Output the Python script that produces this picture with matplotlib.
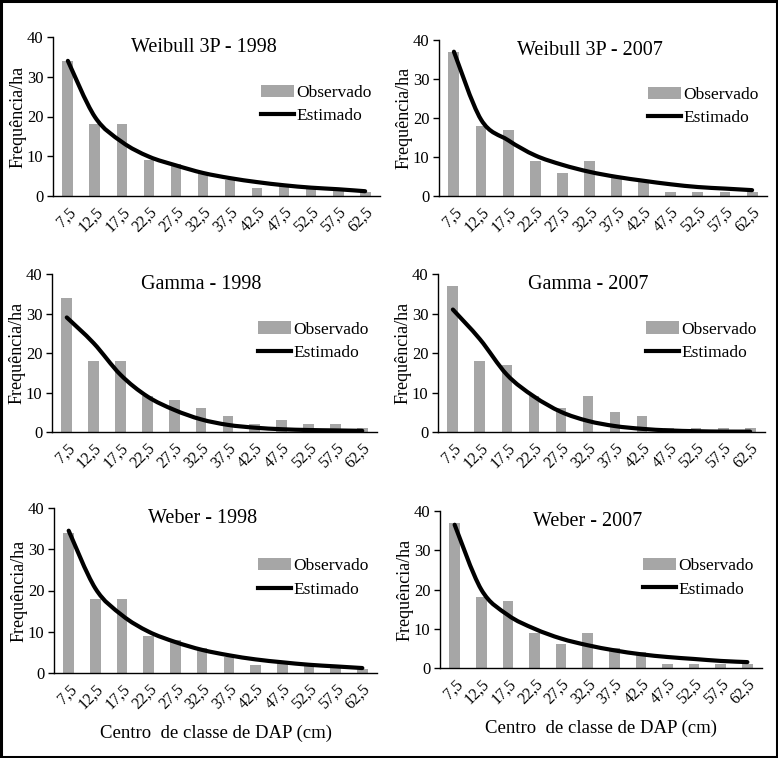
import matplotlib
matplotlib.use("Agg")
import matplotlib.pyplot as plt
from matplotlib.patches import Rectangle, PathPatch
from matplotlib.path import Path
from matplotlib.lines import Line2D
import numpy as np

plt.rcParams['font.family'] = ['Liberation Serif', 'DejaVu Serif']

classes = ["7,5", "12,5", "17,5", "22,5", "27,5", "32,5", "37,5", "42,5",
           "47,5", "52,5", "57,5", "62,5"]
obs_1998 = [34, 18, 18, 9, 8, 6, 4, 2, 3, 2, 2, 1]
obs_2007 = [37, 18, 17, 9, 6, 9, 5, 4, 1, 1, 1, 1]

weibull_1998 = [34.0, 19.9, 13.6, 9.9, 7.7, 5.8, 4.5, 3.5, 2.7, 2.1, 1.7, 1.2]
weibull_2007 = [37.0, 19.6, 14.3, 10.4, 8.0, 6.2, 4.9, 3.9, 3.0, 2.3, 1.9, 1.5]
gamma_1998 = [29.0, 22.5, 14.5, 9.0, 5.6, 3.2, 1.8, 1.1, 0.7, 0.5, 0.4, 0.3]
gamma_2007 = [31.0, 23.5, 14.5, 9.0, 5.1, 2.8, 1.5, 0.8, 0.4, 0.2, 0.1, 0.1]
weber_1998 = [34.5, 20.5, 14.0, 10.0, 7.5, 5.6, 4.3, 3.3, 2.6, 2.0, 1.6, 1.2]
weber_2007 = [36.5, 20.0, 13.5, 10.0, 7.5, 5.8, 4.5, 3.5, 2.8, 2.3, 1.8, 1.5]

titles = ["Weibull 3P - 1998", "Weibull 3P - 2007",
          "Gamma - 1998", "Gamma - 2007",
          "Weber - 1998", "Weber - 2007"]
observed = [obs_1998, obs_2007, obs_1998, obs_2007, obs_1998, obs_2007]
estimated = [weibull_1998, weibull_2007, gamma_1998, gamma_2007,
             weber_1998, weber_2007]


def smooth_path(xs, ys, tension=1 / 6):
    """Excel-style smoothed line: cubic Bezier segments through the points."""
    pts = np.column_stack([xs, ys]).astype(float)
    verts = [pts[0]]
    codes = [Path.MOVETO]
    n = len(pts)
    for k in range(n - 1):
        p0 = pts[k - 1] if k > 0 else pts[k]
        p1 = pts[k]
        p2 = pts[k + 1]
        p3 = pts[k + 2] if k + 2 < n else pts[k + 1]
        c1 = p1 + (p2 - p0) * tension
        c2 = p2 - (p3 - p1) * tension
        verts += [c1, c2, p2]
        codes += [Path.CURVE4] * 3
    return Path(verts, codes)


W, H = 778, 758
fig = plt.figure(figsize=(W / 100, H / 100), dpi=100)

# axes boxes in pixels: (left, right, top(40), bottom(0))
boxes = [(53, 380, 37, 196), (439, 767, 40, 196),
         (52, 377, 274, 432), (438, 765, 274, 432),
         (54, 377, 508, 673), (440, 762, 511, 668)]

bar_color = '#a6a6a6'
x = np.arange(len(classes))
for i, (l, r, t, b) in enumerate(boxes):
    ax = fig.add_axes([l / W, 1 - b / H, (r - l) / W, (b - t) / H])
    bars = ax.bar(x, observed[i], width=0.4, color=bar_color)
    ax.add_patch(PathPatch(smooth_path(x, estimated[i]), facecolor='none',
                           edgecolor='black', lw=3.0, capstyle='round',
                           zorder=3))
    ax.set_xlim(-0.55, 11.55)
    ax.set_ylim(0, 40)
    ax.set_yticks([0, 10, 20, 30, 40])
    ax.set_xticks(x)
    ax.set_xticklabels(classes, rotation=45, ha='right', rotation_mode='anchor',
                       fontsize=11.5)
    ax.tick_params(axis='x', length=0, pad=6)
    ax.tick_params(axis='y', length=4, width=1, labelsize=12, pad=3)
    for s in ['top', 'right']:
        ax.spines[s].set_visible(False)
    for s in ['left', 'bottom']:
        ax.spines[s].set_linewidth(1.0)
    ax.set_ylabel("Frequência/ha", fontsize=13, labelpad=0)
    ax.text(0.46, 0.935, titles[i], transform=ax.transAxes, ha='center',
            va='center', fontsize=14.5)
    line_handle = Line2D([], [], color='black', lw=3.0)
    ax.legend([bars, line_handle], ['Observado', 'Estimado'],
              loc='center right', bbox_to_anchor=(0.995, 0.575), frameon=False,
              fontsize=12.5, handlelength=1.9, handletextpad=0.1,
              labelspacing=0.42, borderaxespad=0.0)
    if i >= 4:
        ax.set_xlabel("Centro  de classe de DAP (cm)", fontsize=13.5, labelpad=9)

fig.patches.append(Rectangle((0.0015, 0.0015), 0.997, 0.997,
                             transform=fig.transFigure, fill=False,
                             edgecolor='black', linewidth=2.2))

fig.savefig("out.png", dpi=100)
